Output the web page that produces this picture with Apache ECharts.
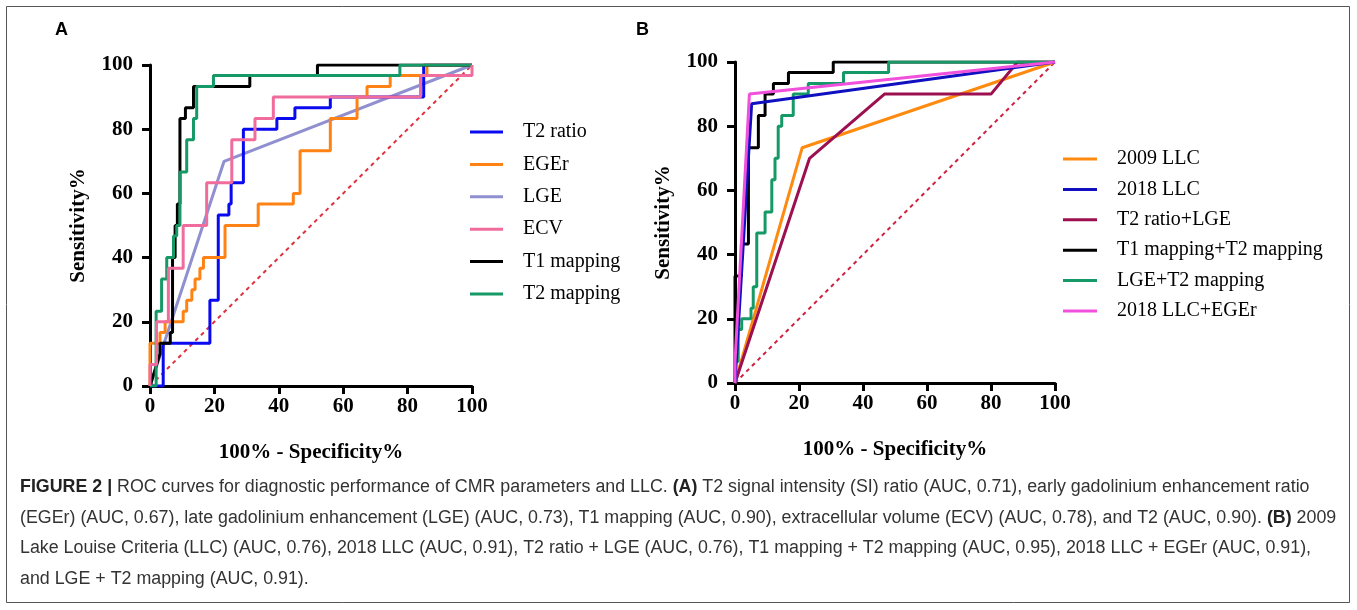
<!DOCTYPE html>
<html>
<head>
<meta charset="utf-8">
<script src="https://cdn.jsdelivr.net/npm/echarts@6/dist/echarts.min.js"></script>
<style>
html,body{margin:0;padding:0;background:#fff;}
#chart{width:1357px;height:610px;}
</style>
</head>
<body>
<div id="chart"></div>
<script>
// ---- Panel A data: [100% - Specificity%, Sensitivity%] ----
const t2Ratio = [[0,0],[4.1,0],[4.1,13.3],[18.6,13.3],[18.6,26.7],[21.2,26.7],[21.2,53.3],[24.5,53.3],[24.5,56.7],[25.2,56.7],[25.2,63.3],[29,63.3],[29,80],[39.4,80],[39.4,83.3],[45,83.3],[45,86.7],[56,86.7],[56,90],[85,90],[85,100],[100,100]];
const egEr = [[0,0],[0,13.3],[3.1,13.3],[3.1,16.7],[4.7,16.7],[4.7,20],[10.3,20],[10.3,23.3],[11.4,23.3],[11.4,26.7],[13,26.7],[13,30],[14,30],[14,33.3],[15.5,33.3],[15.5,36.7],[16.6,36.7],[16.6,40],[23.3,40],[23.3,50],[33.6,50],[33.6,56.7],[44.5,56.7],[44.5,60],[46.6,60],[46.6,73.3],[56,73.3],[56,83.3],[64.3,83.3],[64.3,90],[67.4,90],[67.4,93.3],[74.6,93.3],[74.6,96.7],[86,96.7],[86,100],[100,100]];
const lge = [[0,0],[23,70],[100,100]];
const ecv = [[0,0],[0,6.7],[2,6.7],[2,20],[5.7,20],[5.7,36.7],[10.3,36.7],[10.3,50],[17.6,50],[17.6,63.3],[25.4,63.3],[25.4,76.7],[32.6,76.7],[32.6,83.3],[38.3,83.3],[38.3,90],[84,90],[84,96.7],[100,96.7],[100,100]];
const t1Mapping = [[0,0],[3.1,10],[3.1,13.3],[6.3,13.3],[6.3,16.7],[7,16.7],[7,40],[7.8,40],[7.8,50],[8.5,50],[8.5,56.7],[9.3,56.7],[9.3,83.3],[11,83.3],[11,86.7],[13.5,86.7],[13.5,93.3],[31,93.3],[31,96.7],[52,96.7],[52,100],[100,100]];
const t2Mapping = [[0,0],[1.9,0],[1.9,23.3],[3.6,23.3],[3.6,33.3],[5.2,33.3],[5.2,40],[7.3,40],[7.3,46.7],[8.3,46.7],[8.3,50],[9.3,50],[9.3,66.7],[11.4,66.7],[11.4,76.7],[13.5,76.7],[13.5,83.3],[14.5,83.3],[14.5,93.3],[19.7,93.3],[19.7,96.7],[77.6,96.7],[77.6,100],[100,100]];
const refLine = [[0,0],[100,100]];

// ---- Panel B data ----
const llc2009 = [[0,0],[21,73.3],[100,100]];
const llc2018 = [[0,0],[5.2,87],[100,100]];
const t2RatioLge = [[0,0],[23.3,70],[46.7,90],[80,90],[88.3,100],[100,100]];
const t1t2Mapping = [[0,0],[0,33.3],[2,33.3],[2,43.3],[4.2,43.3],[4.2,73.3],[7.3,73.3],[7.3,83.3],[9.4,83.3],[9.4,90],[12,90],[12,93.3],[16.7,93.3],[16.7,96.7],[30.7,96.7],[30.7,100],[100,100]];
const lgeT2Mapping = [[0,0],[0,6.7],[1,6.7],[1,16.7],[2.1,16.7],[2.1,20],[5,20],[5,23.3],[5.7,23.3],[5.7,30],[6.8,30],[6.8,46.7],[9.4,46.7],[9.4,53.3],[11.5,53.3],[11.5,63.3],[12.5,63.3],[12.5,70],[13.5,70],[13.5,80],[14.6,80],[14.6,83.3],[18.2,83.3],[18.2,90],[22.9,90],[22.9,93.3],[33.9,93.3],[33.9,96.7],[48,96.7],[48,100],[100,100]];
const llc2018EgEr = [[0,0],[0,6.7],[4.5,90],[100,100]];

const namesA = ['T2 ratio','EGEr','LGE','ECV','T1 mapping','T2 mapping'];
const namesB = ['2009 LLC','2018 LLC','T2 ratio+LGE','T1 mapping+T2 mapping','LGE+T2 mapping','2018 LLC+EGEr'];
const xAxisTitle = '100% - Specificity%';
const yAxisTitle = 'Sensitivity%';

const serif = '"Liberation Serif","Times New Roman",serif';
const chart = echarts.init(document.getElementById('chart'));

function axisCommon(isX){
  return {
    type:'value', min:0, max:100, interval:20,
    splitLine:{show:false},
    axisLine:{show:true, onZero:false, lineStyle:{color:'#000', width:3}},
    axisTick:{show:true, inside:false, length:8, lineStyle:{color:'#000', width:3}},
    axisLabel:{color:'#000', fontFamily:serif, fontWeight:'bold', fontSize:21, margin: isX?10:17},
    name: isX ? xAxisTitle : yAxisTitle,
    nameLocation:'middle',
    nameGap: isX ? 56 : 61,
    nameTextStyle:{color:'#000', fontFamily:serif, fontWeight:'bold', fontSize:21}
  };
}

function line(name, data, color, xi, z){
  return {name, type:'line', data, xAxisIndex:xi, yAxisIndex:xi, showSymbol:false, symbol:'none',
    lineStyle:{color, width:3}, itemStyle:{color}, z: z||2, silent:true};
}
function ref(xi, color){
  return {type:'line', data:refLine, xAxisIndex:xi, yAxisIndex:xi, showSymbol:false, symbol:'none',
    lineStyle:{color, width:2, type:[4,4]}, z:1, silent:true};
}

const caption = [
  '{b|FIGURE 2 |} ROC curves for diagnostic performance of CMR parameters and LLC. {b|(A)} T2 signal intensity (SI) ratio (AUC, 0.71), early gadolinium enhancement ratio',
  '(EGEr) (AUC, 0.67), late gadolinium enhancement (LGE) (AUC, 0.73), T1 mapping (AUC, 0.90), extracellular volume (ECV) (AUC, 0.78), and T2 (AUC, 0.90). {b|(B)} 2009',
  'Lake Louise Criteria (LLC) (AUC, 0.76), 2018 LLC (AUC, 0.91), T2 ratio + LGE (AUC, 0.76), T1 mapping + T2 mapping (AUC, 0.95), 2018 LLC + EGEr (AUC, 0.91),',
  'and LGE + T2 mapping (AUC, 0.91).'
];
const capFont = '"Liberation Sans",Arial,sans-serif';
const capY = [487, 518, 548, 579];

const graphics = [
  {type:'rect', shape:{x:6.5,y:6.5,width:1343,height:596}, style:{fill:'none', stroke:'#555', lineWidth:1}, silent:true},
  {type:'text', x:55, y:21, style:{text:'A', font:'bold 18px "Liberation Sans",Arial,sans-serif', fill:'#000'}},
  {type:'text', x:636, y:21, style:{text:'B', font:'bold 18px "Liberation Sans",Arial,sans-serif', fill:'#000'}}
];
caption.forEach((t,i)=>{
  graphics.push({type:'text', x:20, y:capY[i], scaleX:0.99, style:{text:t, fontFamily:capFont, fontSize:18, fill:'#333', verticalAlign:'middle',
    rich:{b:{fontFamily:capFont, fontSize:18, fontWeight:'bold', fill:'#222'}}}});
});

chart.setOption({
  animation:false,
  backgroundColor:'#fff',
  grid:[
    {left:150, top:65, width:322, height:321},
    {left:735, top:62, width:320, height:321}
  ],
  xAxis:[Object.assign(axisCommon(true),{gridIndex:0}), Object.assign(axisCommon(true),{gridIndex:1})],
  yAxis:[Object.assign(axisCommon(false),{gridIndex:0}), Object.assign(axisCommon(false),{gridIndex:1})],
  legend:[
    {data:namesA, orient:'vertical', left:470, top:122, padding:0, icon:'rect', itemWidth:33, itemHeight:3, itemGap:12.4,
     textStyle:{fontFamily:serif, fontSize:20, color:'#000', padding:[0,0,0,15]}, selectedMode:false},
    {data:namesB, orient:'vertical', left:1063, top:149, padding:0, icon:'rect', itemWidth:34, itemHeight:3, itemGap:10.4,
     textStyle:{fontFamily:serif, fontSize:20, color:'#000', padding:[0,0,0,15]}, selectedMode:false}
  ],
  graphic:graphics,
  series:[
    ref(0,'#e0303c'),
    line(namesA[2], lge, '#9090d0', 0, 2),
    line(namesA[0], t2Ratio, '#0a0af0', 0, 3),
    line(namesA[1], egEr, '#ff8214', 0, 3),
    line(namesA[4], t1Mapping, '#000000', 0, 4),
    line(namesA[5], t2Mapping, '#159966', 0, 5),
    line(namesA[3], ecv, '#f06c9c', 0, 6),
    ref(1,'#d02040'),
    line(namesB[0], llc2009, '#ff8a10', 1, 2),
    line(namesB[2], t2RatioLge, '#9c1050', 1, 3),
    line(namesB[3], t1t2Mapping, '#000000', 1, 4),
    line(namesB[4], lgeT2Mapping, '#159966', 1, 5),
    line(namesB[1], llc2018, '#1010c0', 1, 6),
    line(namesB[5], llc2018EgEr, '#f050dc', 1, 7)
  ]
});
</script>
</body>
</html>
